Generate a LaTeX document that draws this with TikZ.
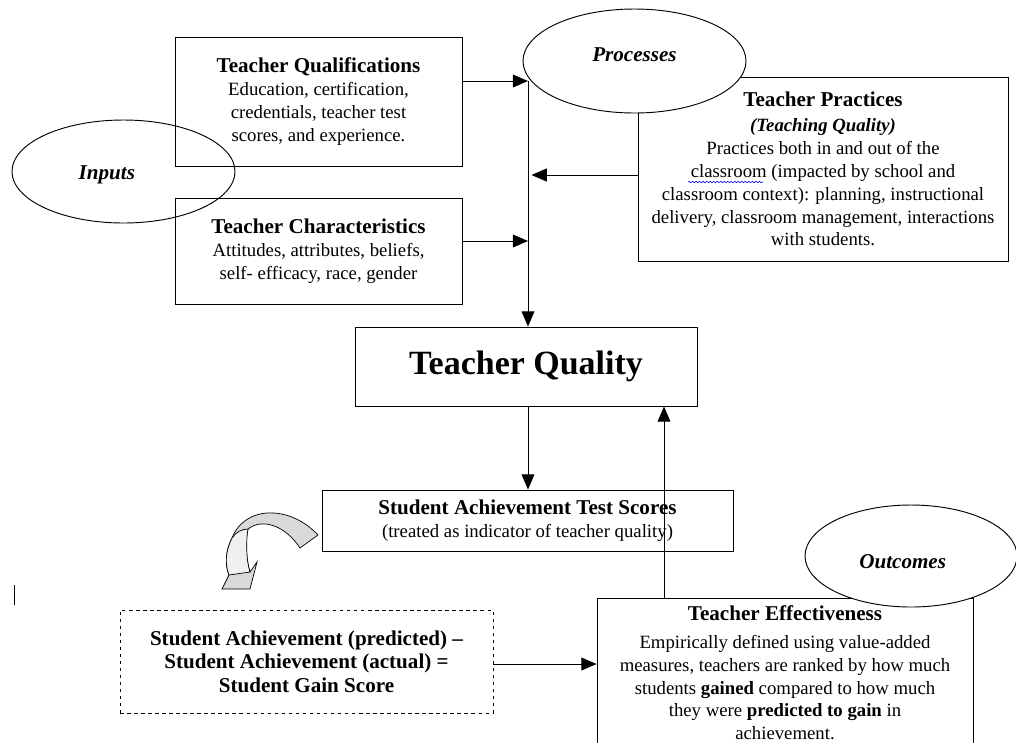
\documentclass[tikz,border=0pt]{standalone}
\usepackage{fontspec}
\setmainfont{Liberation Serif}
\usetikzlibrary{arrows.meta,shapes.geometric,decorations.pathmorphing}
\newcommand\boxhead[1]{{\fontsize{18}{19.5}\selectfont\bfseries #1}}
\begin{document}
\begin{tikzpicture}[x=0.03cm,y=-0.03cm,line width=0.8pt,
	box/.style={draw,rectangle,align=center,inner sep=2pt,
		font=\fontsize{16}{19.5}\selectfont},
	oval/.style={draw,ellipse,inner sep=0pt,
		font=\fontsize{18}{21}\selectfont\bfseries\itshape},
	arr/.style={-{Triangle[length=13pt,width=11pt]}},
	curvearrow/.style={draw,line width=0.6pt,fill=gray!30}]
\useasboundingbox (0,0) rectangle (1016,742);
\node[box,minimum width=8.61cm,minimum height=3.87cm] (qual) at (318.5,101.5)
	{\boxhead{Teacher Qualifications}\\ Education, certification,\\
	credentials, teacher test\\ scores, and experience.};
\node[box,minimum width=8.61cm,minimum height=3.18cm] (char) at (318.5,251)
	{\boxhead{Teacher Characteristics}\\ Attitudes, attributes, beliefs,\\
	self- efficacy, race, gender};
\node[box,minimum width=11.1cm,minimum height=5.52cm] (prac) at (823,169)
	{\boxhead{Teacher Practices}\\[2pt] {\bfseries\itshape (Teaching Quality)}\\
	Practices both in and out of the\\
	classroom (impacted by school and\\
	classroom context): planning, instructional\\
	delivery, classroom management, interactions\\ with students.};
\node[box,minimum width=10.26cm,minimum height=2.37cm,
	font=\fontsize{29}{32}\selectfont\bfseries] (tq) at (526,366.5) {Teacher Quality};
\node[box,minimum width=12.33cm,minimum height=1.83cm] (sats) at (527.5,520.5)
	{\boxhead{Student Achievement Test Scores}\\ (treated as indicator of teacher quality)};
\node[box,dashed,minimum width=11.19cm,minimum height=3.09cm,
	font=\fontsize{18}{20}\selectfont\bfseries] (gain) at (306.5,661.5)
	{Student Achievement (predicted) --\\ Student Achievement (actual) =\\ Student Gain Score};
\node[box,minimum width=11.28cm,minimum height=4.5cm] (eff) at (785,673)
	{\boxhead{Teacher Effectiveness}\\[4pt] Empirically defined using value-added\\
	measures, teachers are ranked by how much\\
	students \textbf{gained} compared to how much\\
	they were \textbf{predicted to gain} in\\ achievement.};
\coordinate (top) at (528,81);
\coordinate (chr) at (528,241);
\coordinate (prc) at (528,175);
\coordinate (up) at (664,0);
\coordinate (mid) at (0,664);
\draw[arr] (qual.east |- top) -- (top);
\draw[arr] (top) -- (top |- tq.north);
\draw[arr] (char.east |- chr) -- (chr);
\draw[arr] (prac.west |- prc) -- ([xshift=3pt]prc);
\draw[arr] (top |- tq.south) -- (top |- sats.north);
\draw[arr] (up |- eff.north) -- (up |- tq.south);
\draw[arr] (gain.east |- mid) -- (eff.west |- mid);
\draw[blue,line width=0.5pt,decorate,decoration={snake,amplitude=0.6pt,segment length=3pt}]
	(688,182) -- (763,182);
\draw[curvearrow] (318,535) .. controls (290,505) and (245,505) .. (232,538)
	.. controls (225,552) and (225,565) .. (229,575) -- (222,589) -- (250,589)
	-- (257,562) -- (250,572) .. controls (246,560) and (245,540) .. (248,529)
	.. controls (262,518) and (285,525) .. (300,548) -- cycle;
\draw[line width=0.6pt,fill=gray!12] (248,529) .. controls (246,540) and (246,560) .. (250,572)
	-- (229,575) .. controls (225,565) and (225,552) .. (232,538) .. controls (236,532) and (242,529) .. (248,529);
\draw[line width=0.6pt] (14,585) -- (14,605);
\node[oval,minimum width=6.69cm,minimum height=3.09cm,
	label={[xshift=-0.5cm,yshift=-0.1cm,font=\fontsize{18}{21}\selectfont\bfseries\itshape]center:Inputs}]
	(inputs) at (123.5,171.5) {};
\node[oval,fill=white,minimum width=6.69cm,minimum height=3.12cm,
	label={[yshift=0.18cm,font=\fontsize{18}{21}\selectfont\bfseries\itshape]center:Processes}]
	(proc) at (634.5,61) {};
\node[oval,fill=white,minimum width=6.36cm,minimum height=3.06cm,
	label={[xshift=-0.25cm,yshift=-0.18cm,font=\fontsize{18}{21}\selectfont\bfseries\itshape]center:Outcomes}]
	(outc) at (911,556) {};
\end{tikzpicture}
\end{document}
